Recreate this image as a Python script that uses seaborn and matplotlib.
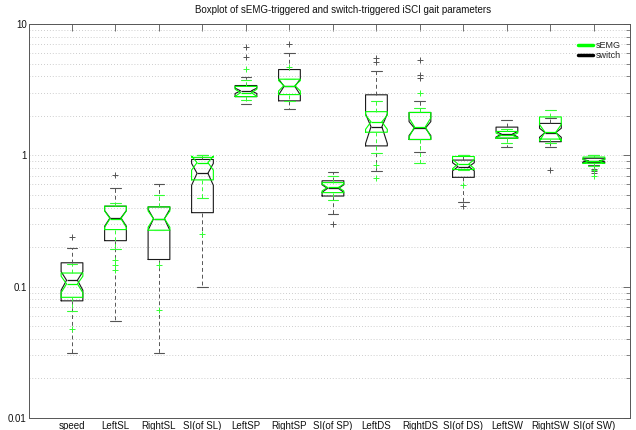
#Import Libraries
import numpy as np
import pandas as pd
import seaborn as sns
import matplotlib
matplotlib.use('Agg')
import matplotlib.pyplot as plt
from matplotlib.lines import Line2D
from matplotlib.ticker import NullFormatter, LogLocator

#Categories on the x axis
categories = ['speed', 'LeftSL', 'RightSL', 'SI(of SL)', 'LeftSP', 'RightSP', 'SI(of SP)',
              'LeftDS', 'RightDS', 'SI(of DS)', 'LeftSW', 'RightSW', 'SI(of SW)']

#switch-triggered (black) box summaries
sw_q1 = [0.078, 0.224, 0.161, 0.366, 2.80, 2.60, 0.49, 1.18, 1.32, 0.68, 1.35, 1.27, 0.88]
sw_med = [0.112, 0.334, 0.329, 0.73, 3.10, 3.35, 0.56, 1.65, 1.61, 0.82, 1.45, 1.49, 0.91]
sw_q3 = [0.152, 0.41, 0.405, 0.93, 3.40, 4.50, 0.64, 2.89, 2.12, 0.92, 1.64, 1.75, 0.95]
sw_lo = [0.031, 0.055, 0.031, 0.10, 2.45, 2.24, 0.36, 0.76, 1.06, 0.445, 1.16, 1.16, 0.84]
sw_hi = [0.197, 0.566, 0.60, 1.0, 3.95, 6.0, 0.75, 4.4, 2.6, 1.0, 1.86, 1.91, 1.0]
sw_out = [[0.239], [0.703], [], [], [5.57, 6.71], [7.1], [0.30], [5.1, 5.5],
          [3.9, 4.1, 5.3], [0.41], [], [0.78], [0.79, 0.76, 0.73]]
sw_n = 41

#sEMG-triggered (green) box summaries
em_q1 = [0.083, 0.272, 0.269, 0.65, 2.80, 2.90, 0.52, 1.50, 1.32, 0.78, 1.35, 1.33, 0.87]
em_med = [0.105, 0.33, 0.33, 0.88, 3.00, 3.40, 0.57, 1.80, 1.65, 0.86, 1.42, 1.50, 0.90]
em_q3 = [0.127, 0.41, 0.405, 0.965, 3.35, 3.80, 0.62, 2.15, 2.12, 0.98, 1.52, 1.96, 0.97]
em_lo = [0.065, 0.192, 0.269, 0.47, 2.64, 2.60, 0.46, 1.05, 0.88, 0.59, 1.25, 1.25, 0.83]
em_hi = [0.148, 0.43, 0.503, 1.0, 3.74, 4.67, 0.69, 2.6, 2.28, 1.0, 1.60, 2.22, 1.0]
em_out = [[0.048], [0.161, 0.147, 0.135], [0.147, 0.0667], [0.25], [4.51], [], [],
          [0.85, 0.67], [3.0], [], [], [], [0.78, 0.69]]
em_n = 21


#Build a tied sample whose quartiles, whisker ends and outliers match the summary
def tied_sample(lo, q1, med, q3, hi, out, n):
    k = (n - 1) // 4
    low = [v for v in out if v < med]
    high = [v for v in out if v > med]
    return (low + [lo] + [q1] * (k - len(low)) + [med] * k
            + [q3] * (2 * k - len(high) - 1) + [hi] + high)


def build_frame(q1, med, q3, lo, hi, out, n):
    rows = []
    for i, cat in enumerate(categories):
        for v in tied_sample(lo[i], q1[i], med[i], q3[i], hi[i], out[i], n):
            rows.append((cat, v))
    return pd.DataFrame(rows, columns=['param', 'value'])


df_sw = build_frame(sw_q1, sw_med, sw_q3, sw_lo, sw_hi, sw_out, sw_n)
df_em = build_frame(em_q1, em_med, em_q3, em_lo, em_hi, em_out, em_n)

sns.set_theme(style='white')
plt.rcParams['font.family'] = ['Liberation Sans', 'DejaVu Sans']

fig = plt.figure(figsize=(6.36, 4.3), dpi=100)
ax = fig.add_axes([29.5 / 636, 12 / 430, 600.5 / 636, 394 / 430])

green = '#00ff00'
black = '#1a1a1a'


def draw(df, c, wc, whis, z):
    sns.boxplot(data=df, x='param', y='value', order=categories, color=c, fill=False,
                notch=True, whis=whis, width=0.5, linewidth=0.8, ax=ax, legend=False,
                boxprops=dict(color=c, linewidth=0.8, zorder=z),
                medianprops=dict(color=c, linewidth=0.9, zorder=z),
                whiskerprops=dict(color=wc, linewidth=0.7, linestyle=(0, (4, 3)), zorder=z),
                capprops=dict(color=wc, linewidth=0.8, zorder=z),
                flierprops=dict(marker='+', markeredgecolor=wc, markerfacecolor='none',
                                markersize=5, markeredgewidth=0.7, zorder=z))


#black first, green on top
draw(df_sw, black, '#555555', 1.0, 3)
draw(df_em, green, '#33ff33', 0.75, 4)

ax.set_yscale('log')
ax.set_ylim(0.01, 10)
ax.set_xlim(-0.977, 12.83)
ax.set_yticks([0.01, 0.1, 1, 10])
ax.set_yticklabels(['0.01', '0.1', '1', '10'])
ax.yaxis.set_minor_locator(LogLocator(base=10, subs=np.arange(2, 10)))
ax.yaxis.set_minor_formatter(NullFormatter())
ax.set_xlabel('')
ax.set_ylabel('')

#MATLAB style grid and ticks
ax.set_axisbelow(True)
ax.yaxis.grid(True, which='both', linestyle=(0, (1, 2.5)), color='#bdbdbd', linewidth=0.6)
ax.xaxis.grid(False)
ax.tick_params(axis='both', which='both', direction='in', top=True, right=True,
               labelsize=7, labelcolor='#111111', color='#555555', pad=2)
ax.tick_params(axis='both', which='major', length=5, width=0.6)
ax.tick_params(axis='y', which='minor', length=3, width=0.5)
for s in ax.spines.values():
    s.set_color('#555555')
    s.set_linewidth(0.7)

fig.text(343 / 636, 1 - 10 / 430, 'Boxplot of sEMG-triggered and switch-triggered iSCI gait parameters',
         ha='center', va='center', fontsize=7, color='#111111')

handles = [Line2D([], [], color=green, linewidth=2.5), Line2D([], [], color='black', linewidth=2.5)]
ax.legend(handles, ['sEMG', 'switch'], loc='upper right', bbox_to_anchor=(0.99, 0.965),
          frameon=False, fontsize=6.5, handlelength=1.6, handletextpad=0.3,
          labelspacing=0.1, borderaxespad=0.0)

fig.savefig('out.png', dpi=100)
